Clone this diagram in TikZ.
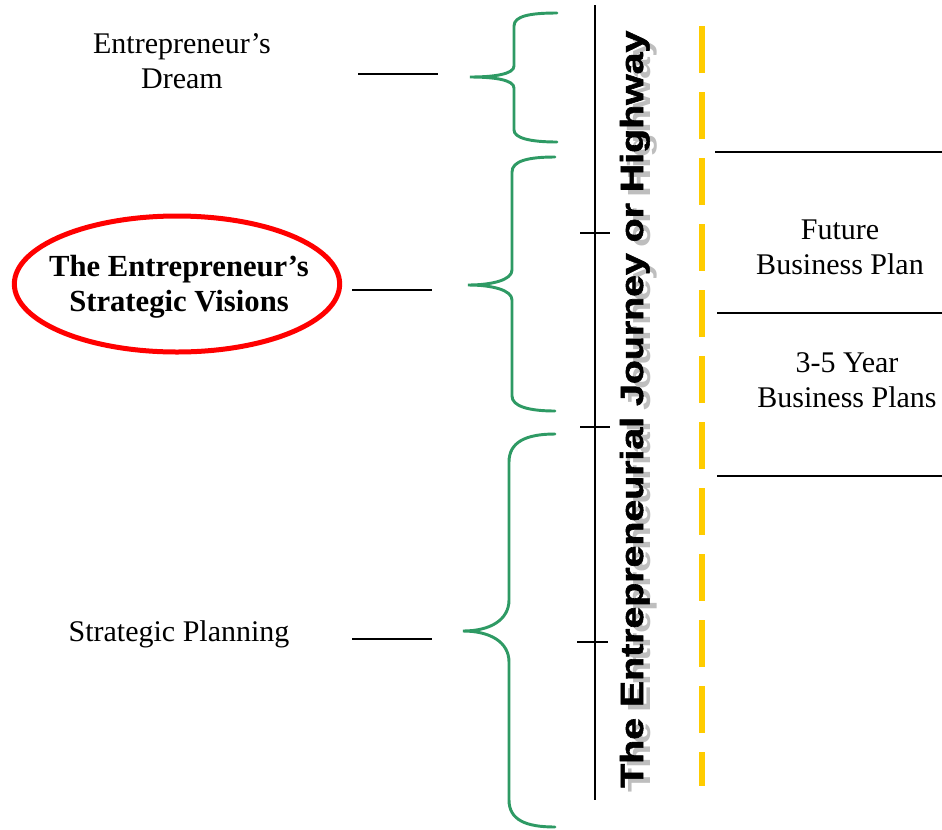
\documentclass[tikz,border=0pt]{standalone}
\usepackage{fontspec}
\setmainfont{Liberation Serif}
\newfontfamily\hwfont[FakeBold=1.6]{Liberation Sans Bold}
\newfontfamily\hwshfont{Liberation Sans Bold}
\usetikzlibrary{shapes.geometric}
\definecolor{bracegreen}{HTML}{2E9A64}
\definecolor{roadyellow}{HTML}{FFCC00}
\definecolor{shadowgray}{HTML}{BEBEBE}
\newcommand{\hwtext}[1]{\scalebox{1.227}[1]{#1\fontsize{24}{28}\selectfont The Entrepreneurial Journey or Highway}}
\tikzset{
  lbl/.style={font=\fontsize{22.5}{26.25}\selectfont, align=center, inner sep=0pt},
  boldlbl/.style={font=\bfseries\fontsize{23}{26.25}\selectfont, align=center, inner sep=0pt},
  leader/.style={line width=1.1pt, black},
  rline/.style={line width=1.4pt, black},
  brc/.style={line width=2.2pt, bracegreen, line cap=round},
  road/.style={line width=4.5pt, roadyellow, dash pattern=on 35.25pt off 14.25pt},
  tick/.style={line width=1.4pt, black}
}
\begin{document}
\begin{tikzpicture}[x=0.75pt,y=-0.75pt]
\useasboundingbox (0,0) rectangle (942,829);

% left labels
\node[lbl] (dream) at (182,61) {Entrepreneur’s\\Dream};
\node[ellipse, draw=red, line width=3.75pt, minimum width=244pt, minimum height=102pt, inner sep=0pt] (ell) at (177,284) {};
\node[boldlbl] (vision) at (179,287) {The Entrepreneur’s\\Strategic Visions};
\node[lbl] (plan) at (179,634) {Strategic Planning};

% leader lines
\coordinate (l1a) at (358,74); \coordinate (l1b) at (438,74);
\coordinate (l2a) at (352,290); \coordinate (l2b) at (432,290);
\coordinate (l3a) at (352,639); \coordinate (l3b) at (432,639);
\draw[leader] (l1a) -- (l1b);
\draw[leader] (l2a) -- (l2b);
\draw[leader] (l3a) -- (l3b);

% braces
\draw[brc] (557,13) .. controls (530,13) and (514,16) .. (514,26) -- (514,66)
  .. controls (514,74) and (495,77) .. (470,77)
  .. controls (495,77) and (514,80) .. (514,88) -- (514,130)
  .. controls (514,138) and (530,142) .. (557,142);
\draw[brc] (555,157) .. controls (528,157) and (512,161) .. (512,172) -- (512,270)
  .. controls (512,280) and (492,285) .. (468,285)
  .. controls (492,285) and (512,290) .. (512,300) -- (512,396)
  .. controls (512,406) and (528,411) .. (555,411);
\draw[brc] (555,434) .. controls (526,434) and (509,442) .. (509,462) -- (509,600)
  .. controls (509,620) and (490,631) .. (463,631)
  .. controls (490,631) and (509,642) .. (509,662) -- (509,800)
  .. controls (509,820) and (526,827) .. (555,827);

% main vertical line and ticks
\coordinate (vt) at (595,5); \coordinate (vb) at (595,800);
\draw[line width=1.5pt] (vt) -- (vb);
\coordinate (t1a) at (580,233); \coordinate (t1b) at (610,233);
\coordinate (t2a) at (580,427); \coordinate (t2b) at (610,427);
\coordinate (t3a) at (577,642); \coordinate (t3b) at (608,642);
\draw[tick] (t1a) -- (t1b);
\draw[tick] (t2a) -- (t2b);
\draw[tick] (t3a) -- (t3b);

% vertical title with shadow
\node[rotate=90, anchor=base west, inner sep=0pt, text=shadowgray] (hwshadow) at (650,793) {\hwtext{\hwshfont}};
\node[rotate=90, anchor=base west, inner sep=0pt] (hw) at (643,788) {\hwtext{\hwfont}};

% yellow dashed road line
\coordinate (ya) at (702,26); \coordinate (yb) at (702,786);
\draw[road] (ya) -- (yb);

% right side lines
\coordinate (r1a) at (715,152); \coordinate (r1b) at (942,152);
\coordinate (r2a) at (717,313); \coordinate (r2b) at (942,313);
\coordinate (r3a) at (717,476); \coordinate (r3b) at (942,476);
\draw[rline] (r1a) -- (r1b);
\draw[rline] (r2a) -- (r2b);
\draw[rline] (r3a) -- (r3b);

% right labels
\node[lbl] (future) at (840,247) {Future\\Business Plan};
\node[lbl] (years) at (847,380) {3-5 Year\\Business Plans};
\end{tikzpicture}
\end{document}
